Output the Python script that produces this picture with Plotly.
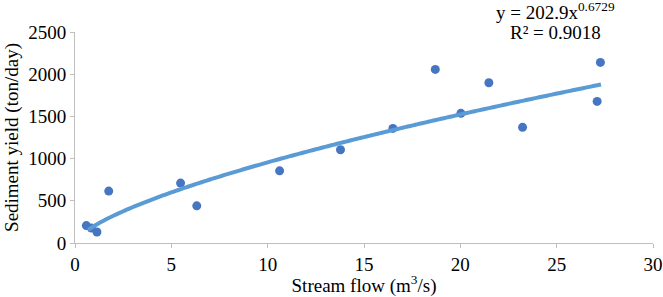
import numpy as np
import plotly.graph_objects as go

# Observed data
stream_flow = [0.59, 0.85, 1.14, 1.75, 5.48, 6.32, 10.62, 13.78, 16.5, 18.7, 20.03, 21.48, 23.23, 27.1, 27.27]
sediment_yield = [206, 177, 130, 615, 710, 440, 855, 1105, 1358, 2057, 1536, 1899, 1370, 1678, 2140]

# Power trendline as reported on the chart
coef_a = 202.9
coef_b = 0.6729
r_squared = 0.9018
trend_x = np.linspace(0.68, 27.3, 200)
trend_y = coef_a * trend_x ** coef_b

x_ticks = [0, 5, 10, 15, 20, 25, 30]
y_ticks = [0, 500, 1000, 1500, 2000, 2500]

FONT = "Liberation Serif"
FS = 19

fig = go.Figure()
fig.add_trace(go.Scatter(x=stream_flow, y=sediment_yield, mode="markers",
                         marker=dict(color="#4676C2", size=9), showlegend=False))
fig.add_trace(go.Scatter(x=trend_x, y=trend_y, mode="lines",
                         line=dict(color="#5B9BD5", width=4, simplify=False), showlegend=False))

axis_common = dict(showgrid=False, zeroline=False, showline=True, linecolor="#BFBFBF", linewidth=1,
                   ticks="outside", ticklen=4, tickcolor="#BFBFBF", automargin=False,
                   tickfont=dict(family=FONT, size=FS, color="#000"))
fig.update_xaxes(range=[0, 30], tickvals=x_ticks, ticklabelstandoff=0,
                 title=dict(text="Stream flow (m<sup>3</sup>/s)", font=dict(family=FONT, size=FS, color="#000"), standoff=0),
                 **axis_common)
fig.update_yaxes(range=[0, 2500], tickvals=y_ticks,
                 title=dict(text="Sediment yield (ton/day)", font=dict(family=FONT, size=FS, color="#000"), standoff=4),
                 **axis_common)

fig.add_annotation(xref="paper", yref="paper", x=0.832, xanchor="center", y=(243 - 25) / 211, yanchor="bottom",
                   showarrow=False, text=f"y = {coef_a}x<sup>{coef_b}</sup>",
                   font=dict(family=FONT, size=FS, color="#000"))
fig.add_annotation(xref="paper", yref="paper", x=0.832, xanchor="center", y=(243 - 20) / 211, yanchor="top",
                   showarrow=False, text=f"R² = {r_squared}", font=dict(family=FONT, size=FS, color="#000"))

fig.update_layout(width=663, height=297, margin=dict(l=75, r=10, t=32, b=54, autoexpand=False),
                  plot_bgcolor="white", paper_bgcolor="white")
fig.write_html("out.html", config={"displayModeBar": False},
               post_script="document.body.style.margin='0px';")
